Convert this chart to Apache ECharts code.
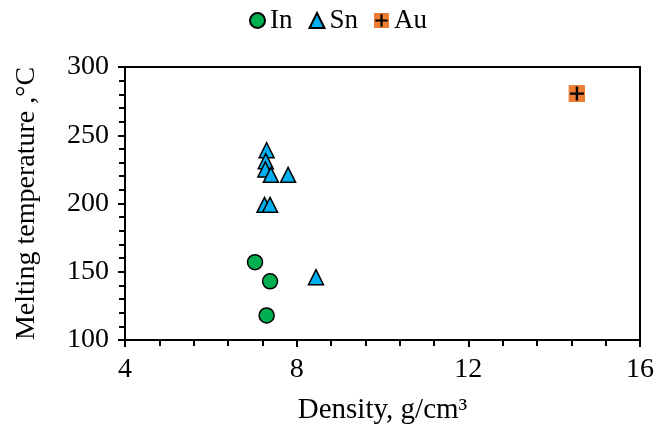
<!DOCTYPE html>
<html>
<head>
<meta charset="utf-8">
<script src="https://cdn.jsdelivr.net/npm/echarts@6/dist/echarts.min.js"></script>
<style>html,body{margin:0;padding:0;background:#fff}#c{width:657px;height:430px}</style>
</head>
<body>
<div id="c"></div>
<script>
const seriesNames = ['In', 'Sn', 'Au'];
const inDensity = [7.03, 7.38, 7.30];
const inTemp = [157, 143, 118];
const snDensity = [7.30, 7.28, 7.27, 7.40, 7.80, 7.25, 7.38, 8.45];
const snTemp = [239, 231, 225, 221, 221, 199, 199, 146];
const auDensity = [14.53];
const auTemp = [280.5];
const xTicks = [4, 8, 12, 16];
const yTicks = [100, 150, 200, 250, 300];

const FONT = '"Liberation Serif", "Times New Roman", serif';
const auSvg = '<svg xmlns="http://www.w3.org/2000/svg" width="34" height="34" viewBox="0 0 17 17">' +
  '<rect x="0" y="0" width="17" height="17" fill="#ED7D31"/>' +
  '<path d="M8.5 1.5 V15.5 M1.5 8.5 H15.5" stroke="#000" stroke-width="2.4"/></svg>';
const auSymbol = 'image://data:image/svg+xml;charset=utf-8,' + encodeURIComponent(auSvg);

function pairs(xs, ys) { return xs.map((x, i) => [x, ys[i]]); }

const chart = echarts.init(document.getElementById('c'), null, {renderer: 'canvas'});
chart.setOption({
  animation: false,
  backgroundColor: '#fff',
  textStyle: {fontFamily: FONT},
  legend: {
    top: 7, left: 249, padding: 0,
    itemWidth: 15, itemHeight: 15, itemGap: 16,
    textStyle: {fontFamily: FONT, fontSize: 27, color: '#000'},
    data: seriesNames
  },
  grid: {left: 125, top: 67, width: 515, height: 276, show: true, borderColor: '#000', borderWidth: 2, backgroundColor: 'transparent'},
  xAxis: {
    type: 'value', min: xTicks[0], max: xTicks[xTicks.length - 1], interval: 4,
    name: 'Density, g/cm³', nameLocation: 'middle', nameGap: 56,
    nameTextStyle: {fontFamily: FONT, fontSize: 29, color: '#000'},
    axisLine: {show: true, lineStyle: {color: '#000', width: 2}},
    axisTick: {show: true, inside: false, length: 7, lineStyle: {color: '#000', width: 2}},
    minorTick: {show: true, splitNumber: 5, length: 6, lineStyle: {color: '#000', width: 2}},
    axisLabel: {fontFamily: FONT, fontSize: 28, color: '#000', margin: 16},
    splitLine: {show: false}
  },
  yAxis: {
    type: 'value', min: yTicks[0], max: yTicks[yTicks.length - 1], interval: 50,
    name: 'Melting temperature ,°C', nameLocation: 'middle', nameGap: 84,
    nameTextStyle: {fontFamily: FONT, fontSize: 28, color: '#000'},
    axisLine: {show: true, lineStyle: {color: '#000', width: 2}},
    axisTick: {show: true, inside: false, length: 7, lineStyle: {color: '#000', width: 2}},
    minorTick: {show: true, splitNumber: 5, length: 6, lineStyle: {color: '#000', width: 2}},
    axisLabel: {fontFamily: FONT, fontSize: 28, color: '#000', margin: 16},
    splitLine: {show: false}
  },
  series: [
    {name: 'In', type: 'scatter', symbol: 'circle', symbolSize: 15,
     itemStyle: {color: '#00B050', borderColor: '#000', borderWidth: 1.5, opacity: 1},
     data: pairs(inDensity, inTemp)},
    {name: 'Sn', type: 'scatter', symbol: 'triangle', symbolSize: 15,
     itemStyle: {color: '#00B0F0', borderColor: '#000', borderWidth: 1.5, opacity: 1},
     data: pairs(snDensity, snTemp)},
    {name: 'Au', type: 'scatter', symbol: auSymbol, symbolSize: 17,
     itemStyle: {color: '#ED7D31', opacity: 1},
     data: pairs(auDensity, auTemp)}
  ]
});
</script>
</body>
</html>
